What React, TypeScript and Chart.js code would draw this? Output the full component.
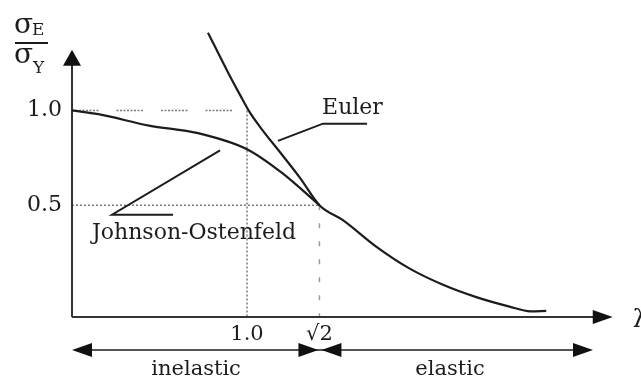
import React, { useEffect, useRef } from "react";
import { Chart, registerables } from "chart.js";

Chart.register(...registerables);

// Slenderness ratio (lambda) vs normalised critical stress sigma_E / sigma_Y
const eulerLambda = [0.777, 0.89, 0.96, 1.017, 1.086, 1.19, 1.303, 1.414, 1.55, 1.74, 1.93, 2.12, 2.31, 2.5, 2.62, 2.71];
const eulerStress = [1.41, 1.203, 1.082, 0.988, 0.899, 0.778, 0.644, 0.5, 0.42, 0.28, 0.165, 0.08, 0.015, -0.035, -0.06, -0.058];

const johnsonLambda = [0, 0.15, 0.44, 0.72, 1.0, 1.2, 1.414];
const johnsonStress = [1.0, 0.98, 0.92, 0.88, 0.795, 0.67, 0.5];

const xTickValues = [1.0, 1.414];
const xTickLabels = ["1.0", "\u221A2"];
const yTickValues = [0.5, 1.0];
const yTickLabels = ["0.5", "1.0"];

// Axis extents in data units
const X_MIN = 0;
const X_MAX = 3.1;
const Y_MIN = -0.09;
const Y_MAX = 1.46;
const Y_ARROW_TIP = 1.32;
const X_ARROW_TIP = 3.09;

// Regime boundaries shown under the axis
const regimeBounds = [0, 1.414, 2.977];
const regimeLabels = ["inelastic", "elastic"];
const regimeLabelX = [0.709, 2.16];

// Callouts: text anchor and leader polyline, in data units
const eulerLabelAt = [1.429, 0.982];
const eulerLeader = [[1.177, 0.839], [1.434, 0.93], [1.686, 0.93]];
const johnsonLabelAt = [0.114, 0.324];
const johnsonLeader = [[0.846, 0.789], [0.229, 0.45], [0.577, 0.45]];

const FONT = '"DejaVu Serif", serif';
const INK = "#1c1c1c";

const zip = (xs: number[], ys: number[]) => xs.map((x, i) => ({ x, y: ys[i] }));

function arrowHead(ctx: CanvasRenderingContext2D, tipX: number, tipY: number, dx: number, dy: number, len: number, half: number) {
  const bx = tipX - dx * len;
  const by = tipY - dy * len;
  ctx.beginPath();
  ctx.moveTo(tipX, tipY);
  ctx.lineTo(bx - dy * half, by + dx * half);
  ctx.lineTo(bx + dy * half, by - dx * half);
  ctx.closePath();
  ctx.fill();
}

const decorPlugin = {
  id: "bucklingDecor",
  beforeDatasetsDraw(chart: any) {
    const { ctx, scales } = chart;
    const xs = scales.x;
    const ys = scales.y;
    const px = (v: number) => xs.getPixelForValue(v);
    const py = (v: number) => ys.getPixelForValue(v);
    ctx.save();

    // guide lines
    ctx.strokeStyle = "#7a7a7a";
    ctx.lineWidth = 1.5;
    ctx.setLineDash([2, 1.5, 2, 1.5, 2, 1.5, 2, 1.5, 2, 1.5, 2, 1.5, 2, 1.5, 2, 18]);
    ctx.beginPath();
    ctx.moveTo(px(0), py(1.0));
    ctx.lineTo(px(1.0), py(1.0));
    ctx.stroke();

    ctx.setLineDash([2, 2]);
    ctx.beginPath();
    ctx.moveTo(px(1.0), py(1.0));
    ctx.lineTo(px(1.0), py(Y_MIN));
    ctx.moveTo(px(0), py(0.5));
    ctx.lineTo(px(1.414), py(0.5));
    ctx.stroke();

    ctx.strokeStyle = "#9a9a9a";
    ctx.setLineDash([5, 13]);
    ctx.beginPath();
    ctx.moveTo(px(1.414), py(0.5));
    ctx.lineTo(px(1.414), py(Y_MIN));
    ctx.stroke();
    ctx.setLineDash([]);

    // axes with arrow heads
    ctx.strokeStyle = "#333";
    ctx.fillStyle = "#111";
    ctx.lineWidth = 2;
    ctx.beginPath();
    ctx.moveTo(px(0), py(Y_MIN));
    ctx.lineTo(px(0), py(Y_ARROW_TIP) + 10);
    ctx.moveTo(px(0), py(Y_MIN));
    ctx.lineTo(px(X_ARROW_TIP) - 10, py(Y_MIN));
    ctx.stroke();
    arrowHead(ctx, px(0), py(Y_ARROW_TIP), 0, -1, 16, 9);
    arrowHead(ctx, px(X_ARROW_TIP), py(Y_MIN), 1, 0, 20, 7);
    ctx.restore();
  },
  afterDraw(chart: any) {
    const { ctx, scales, chartArea } = chart;
    const xs = scales.x;
    const ys = scales.y;
    const px = (v: number) => xs.getPixelForValue(v);
    const py = (v: number) => ys.getPixelForValue(v);
    ctx.save();
    ctx.fillStyle = INK;
    ctx.strokeStyle = INK;

    // y-axis title: sigma_E over sigma_Y
    const ax = px(0);
    ctx.textBaseline = "alphabetic";
    ctx.textAlign = "left";
    ctx.font = `28px ${FONT}`;
    ctx.fillText("\u03C3", ax - 58, 33);
    ctx.fillText("\u03C3", ax - 58, 63);
    ctx.font = `17px ${FONT}`;
    ctx.fillText("E", ax - 40, 35);
    ctx.fillText("Y", ax - 39, 73);
    ctx.lineWidth = 2;
    ctx.beginPath();
    ctx.moveTo(ax - 57, 43);
    ctx.lineTo(ax - 24, 43);
    ctx.stroke();

    // lambda at end of the x axis
    ctx.font = `24px ${FONT}`;
    ctx.textBaseline = "middle";
    ctx.fillText("\u03BB", px(X_ARROW_TIP) + 20, py(Y_MIN) + 4);

    // callouts
    ctx.lineWidth = 2;
    ctx.textBaseline = "alphabetic";
    ctx.font = `22px ${FONT}`;
    ctx.fillText("Euler", px(eulerLabelAt[0]), py(eulerLabelAt[1]));
    ctx.fillText("Johnson-Ostenfeld", px(johnsonLabelAt[0]), py(johnsonLabelAt[1]));
    for (const pts of [eulerLeader, johnsonLeader]) {
      ctx.beginPath();
      pts.forEach(([lx, ly], i) => (i ? ctx.lineTo(px(lx), py(ly)) : ctx.moveTo(px(lx), py(ly))));
      ctx.stroke();
    }

    // inelastic / elastic ranges
    const ry = chartArea.bottom + 33;
    ctx.strokeStyle = "#555";
    ctx.fillStyle = "#111";
    ctx.lineWidth = 2;
    ctx.beginPath();
    ctx.moveTo(px(regimeBounds[0]) + 10, ry);
    ctx.lineTo(px(regimeBounds[2]) - 10, ry);
    ctx.stroke();
    arrowHead(ctx, px(regimeBounds[0]), ry, -1, 0, 20, 7);
    arrowHead(ctx, px(regimeBounds[1]) - 1, ry, 1, 0, 20, 7);
    arrowHead(ctx, px(regimeBounds[1]) + 2, ry, -1, 0, 20, 7);
    arrowHead(ctx, px(regimeBounds[2]), ry, 1, 0, 20, 7);

    ctx.fillStyle = INK;
    ctx.font = `21px ${FONT}`;
    ctx.textAlign = "center";
    ctx.textBaseline = "middle";
    regimeLabels.forEach((t, i) => ctx.fillText(t, px(regimeLabelX[i]), ry + 20));
    ctx.restore();
  },
};

export default function App() {
  const canvasRef = useRef<HTMLCanvasElement | null>(null);

  useEffect(() => {
    if (!canvasRef.current) return;
    const curve = {
      borderColor: INK,
      borderWidth: 2.2,
      pointRadius: 0,
      fill: false,
      tension: 0.4,
      cubicInterpolationMode: "monotone" as const,
    };
    const chart = new Chart(canvasRef.current, {
      type: "line",
      data: {
        datasets: [
          { label: "Euler", data: zip(eulerLambda, eulerStress), ...curve },
          { label: "Johnson-Ostenfeld", data: zip(johnsonLambda, johnsonStress), ...curve },
        ],
      },
      options: {
        animation: false,
        responsive: false,
        devicePixelRatio: 1,
        layout: { padding: { left: 0, top: 10, right: 26.5, bottom: 0 } },
        plugins: { legend: { display: false }, tooltip: { enabled: false } },
        scales: {
          x: {
            type: "linear",
            min: X_MIN,
            max: X_MAX,
            grid: { display: false, drawTicks: false },
            border: { display: false },
            afterBuildTicks: (s: any) => {
              s.ticks = xTickValues.map((value) => ({ value }));
            },
            afterFit: (s: any) => {
              s.height = 64;
            },
            ticks: {
              autoSkip: false,
              maxRotation: 0,
              padding: 5,
              color: INK,
              font: { family: FONT, size: 21 },
              callback: (v: any) => xTickLabels[xTickValues.indexOf(Number(v))] ?? "",
            },
          },
          y: {
            type: "linear",
            min: Y_MIN,
            max: Y_MAX,
            grid: { display: false, drawTicks: false },
            border: { display: false },
            afterBuildTicks: (s: any) => {
              s.ticks = yTickValues.map((value) => ({ value }));
            },
            afterFit: (s: any) => {
              s.width = 72;
            },
            ticks: {
              autoSkip: false,
              padding: 10,
              color: INK,
              font: { family: FONT, size: 22 },
              callback: (v: any) => yTickLabels[yTickValues.indexOf(Number(v))] ?? "",
            },
          },
        },
      },
      plugins: [decorPlugin],
    });
    return () => chart.destroy();
  }, []);

  return (
    <div style={{ position: "fixed", left: 0, top: 0, width: 641, height: 381, background: "#fff" }}>
      <canvas ref={canvasRef} width={641} height={381} />
    </div>
  );
}
